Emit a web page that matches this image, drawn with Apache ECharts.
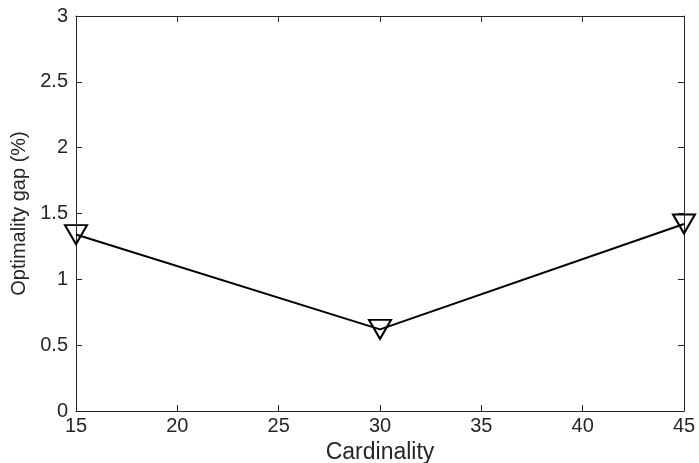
<!DOCTYPE html>
<html><head><meta charset="utf-8">
<script src="https://cdn.jsdelivr.net/npm/echarts@6/dist/echarts.min.js"></script>
<style>html,body{margin:0;padding:0;background:#fff}#c{width:699px;height:463px}</style>
</head><body><div id="c"></div>
<script>
const cardinality = [15, 30, 45];
const gapValues = [1.34, 0.62, 1.42];
const xTicks = [15, 20, 25, 30, 35, 40, 45];
const yTicks = [0, 0.5, 1, 1.5, 2, 2.5, 3];

const chart = echarts.init(document.getElementById('c'), null, {renderer: 'canvas'});
const font = 'Liberation Sans, Arial, Helvetica, sans-serif';
const axColor = '#262626';
const baseAxis = {
  axisLine: {show: true, onZero: false, lineStyle: {color: axColor, width: 1}},
  axisTick: {show: true, inside: true, length: 6, lineStyle: {color: axColor}},
  splitLine: {show: false},
  axisLabel: {color: '#262626', fontFamily: font, fontSize: 20}
};
chart.setOption({
  animation: false,
  grid: {left: 76, right: 15, top: 16, bottom: 52, containLabel: false, outerBoundsMode: 'none'},
  xAxis: [
    Object.assign({}, baseAxis, {
      type: 'value', min: 15, max: 45, interval: 5, position: 'bottom',
      name: 'Cardinality', nameLocation: 'middle', nameGap: 29,
      nameTextStyle: {color: '#262626', fontFamily: font, fontSize: 23},
      axisLabel: Object.assign({}, baseAxis.axisLabel, {margin: 5})
    }),
    Object.assign({}, baseAxis, {
      type: 'value', min: 15, max: 45, interval: 5, position: 'top',
      axisLabel: {show: false}
    })
  ],
  yAxis: [
    Object.assign({}, baseAxis, {
      type: 'value', min: 0, max: 3, interval: 0.5, position: 'left',
      name: 'Optimality gap (%)', nameLocation: 'middle', nameGap: 40,
      nameTextStyle: {color: '#262626', fontFamily: font, fontSize: 20},
      axisLabel: Object.assign({}, baseAxis.axisLabel, {margin: 8})
    }),
    Object.assign({}, baseAxis, {
      type: 'value', min: 0, max: 3, interval: 0.5, position: 'right',
      axisLabel: {show: false}
    })
  ],
  series: [{
    type: 'line',
    data: cardinality.map((x, i) => [x, gapValues[i]]),
    lineStyle: {color: '#000', width: 2},
    symbol: 'triangle',
    symbolRotate: 180,
    symbolSize: [22, 19],
    itemStyle: {color: 'rgba(0,0,0,0)', borderColor: '#000', borderWidth: 2},
    clip: false,
    z: 5
  }]
});
</script></body></html>
